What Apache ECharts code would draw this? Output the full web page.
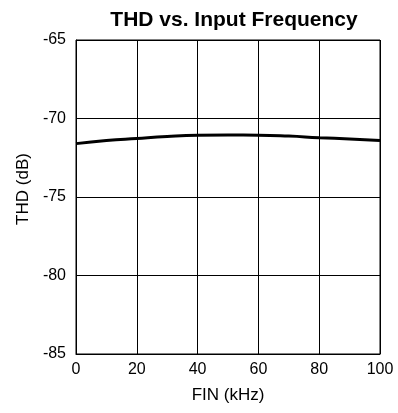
<!DOCTYPE html>
<html>
<head>
<meta charset="utf-8">
<script src="https://cdn.jsdelivr.net/npm/echarts@6/dist/echarts.min.js"></script>
<style>
  html, body { margin: 0; padding: 0; background: #fff; }
  #chart { width: 398px; height: 413px; }
</style>
</head>
<body>
<div id="chart"></div>
<script>
// FIN (kHz) and THD (dB)
const freqKHz = [0, 10, 20, 30, 40, 50, 60, 70, 80, 90, 100];
const thdDb = [-71.6, -71.4, -71.27, -71.15, -71.07, -71.05, -71.06, -71.12, -71.22, -71.3, -71.4];

const chart = echarts.init(document.getElementById('chart'));

const font = 'Liberation Sans, Arial, sans-serif';

chart.setOption({
  animation: false,
  title: {
    text: 'THD vs. Input Frequency',
    left: 229,
    textAlign: 'center',
    top: 5,
    textStyle: { fontFamily: font, fontSize: 21, fontWeight: 'bold', color: '#000' }
  },
  grid: { left: 76, right: 18, top: 40, bottom: 59, show: true, borderColor: '#000', borderWidth: 1 },
  xAxis: {
    type: 'value',
    min: 0,
    max: 100,
    interval: 20,
    name: 'FIN (kHz)',
    nameLocation: 'middle',
    nameGap: 33,
    nameTextStyle: { fontFamily: font, fontSize: 17, color: '#000' },
    axisLine: { lineStyle: { color: '#000', width: 1 } },
    axisTick: { show: false },
    axisLabel: { fontFamily: font, fontSize: 16, color: '#000', margin: 8 },
    splitLine: { lineStyle: { color: '#000', width: 1 } }
  },
  yAxis: {
    type: 'value',
    min: -85,
    max: -65,
    interval: 5,
    name: 'THD (dB)',
    nameLocation: 'middle',
    nameGap: 43,
    nameTextStyle: { fontFamily: font, fontSize: 17, color: '#000', padding: [0, 0, 0, 16] },
    axisLine: { show: true, lineStyle: { color: '#000', width: 1 } },
    axisTick: { show: false },
    axisLabel: { fontFamily: font, fontSize: 16, color: '#000', margin: 10 },
    splitLine: { lineStyle: { color: '#000', width: 1 } }
  },
  series: [{
    type: 'line',
    data: freqKHz.map((f, i) => [f, thdDb[i]]),
    smooth: true,
    showSymbol: false,
    lineStyle: { color: '#000', width: 3 }
  }]
});
</script>
</body>
</html>
